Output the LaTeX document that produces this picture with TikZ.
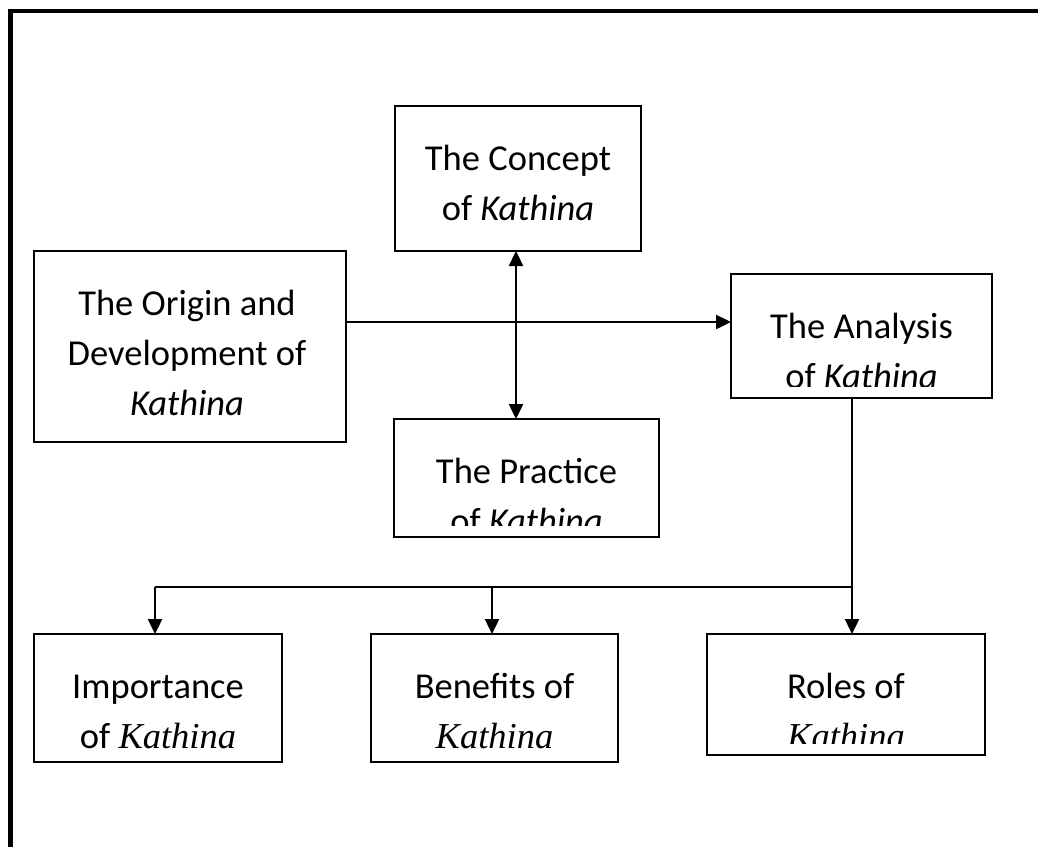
\documentclass[tikz,border=0pt]{standalone}
\usepackage{fontspec}
\setmainfont{Carlito}
\newfontfamily\tnr{Liberation Serif}
\usetikzlibrary{arrows.meta}
\begin{document}
\begin{tikzpicture}[x=1pt,y=-1pt,
  box/.style={draw,line width=2.5pt,rectangle,inner sep=0pt,outer sep=0pt},
  txt/.style={anchor=base,inner sep=0pt,font=\fontsize{36.5}{44}\selectfont},
  arr/.style={line width=2.4pt,-{Triangle[length=15pt,width=14pt]}},
  arrb/.style={line width=2.4pt,{Triangle[length=15pt,width=14pt]}-{Triangle[length=15pt,width=14pt]}},
  plain/.style={line width=2.4pt}]
\useasboundingbox (0,0) rectangle (1038,847);
\clip (0,0) rectangle (1038,847);
% outer frame (cut by the page)
\draw[line width=4.5pt] (10.5,847) -- (10.5,11) -- (1038,11);

% boxes
\node[box,minimum width=246pt,minimum height=145pt] (concept) at (518,178.5) {};
\node[box,minimum width=312pt,minimum height=191pt] (origin) at (190,346.5) {};
\node[box,minimum width=261pt,minimum height=124pt] (analysis) at (861.5,336) {};
\node[box,minimum width=265pt,minimum height=118pt] (practice) at (526.5,478) {};
\node[box,minimum width=248pt,minimum height=128pt] (importance) at (158,698) {};
\node[box,minimum width=247pt,minimum height=128pt] (benefits) at (494.5,698) {};
\node[box,minimum width=278pt,minimum height=121pt] (roles) at (846,694.5) {};

% texts
\node[txt] (t1a) at (518,170) {The Concept};
\node[txt] (t1b) at (518,220) {of \textit{Kathina}};
\node[txt] (t2a) at (187,315) {The Origin and};
\node[txt] (t2b) at (187,365) {Development of};
\node[txt] (t2c) at (187,415) {\textit{Kathina}};
\begin{scope}
  \clip (731,274) rectangle (992,386);
  \node[txt] (t3a) at (861.5,338) {The Analysis};
  \node[txt] (t3b) at (861.5,388) {of \textit{Kathina}};
\end{scope}
\begin{scope}
  \clip (394,419) rectangle (659,525);
  \node[txt] (t4a) at (526.5,483) {The Practice};
  \node[txt] (t4b) at (526.5,533) {of \textit{Kathina}};
\end{scope}
\node[txt] (t5a) at (158,698) {Importance};
\node[txt] (t5b) at (158,748) {of {\tnr\itshape Kathina}};
\node[txt] (t6a) at (494.5,698) {Benefits of};
\node[txt] (t6b) at (494.5,748) {{\tnr\itshape Kathina}};
\begin{scope}
  \clip (707,634) rectangle (985,743);
  \node[txt] (t7a) at (846,698) {Roles of};
  \node[txt] (t7b) at (846,748) {{\tnr\itshape Kathina}};
\end{scope}

% connectors
\draw[arr] (origin.east |- 0,322) -- (analysis.west |- 0,322);
\draw[arrb] (concept.south -| 516,0) -- (practice.north -| 516,0);
\draw[arr] (analysis.south -| 852,0) -- (roles.north -| 852,0);
\coordinate (j1) at (852,587);
\coordinate (j2) at (492,587);
\coordinate (j3) at (155,587);
\draw[plain] (j1) -- (j3);
\draw[arr] (j3) -- (importance.north -| j3);
\draw[arr] (j2) -- (benefits.north -| j2);
\end{tikzpicture}
\end{document}
